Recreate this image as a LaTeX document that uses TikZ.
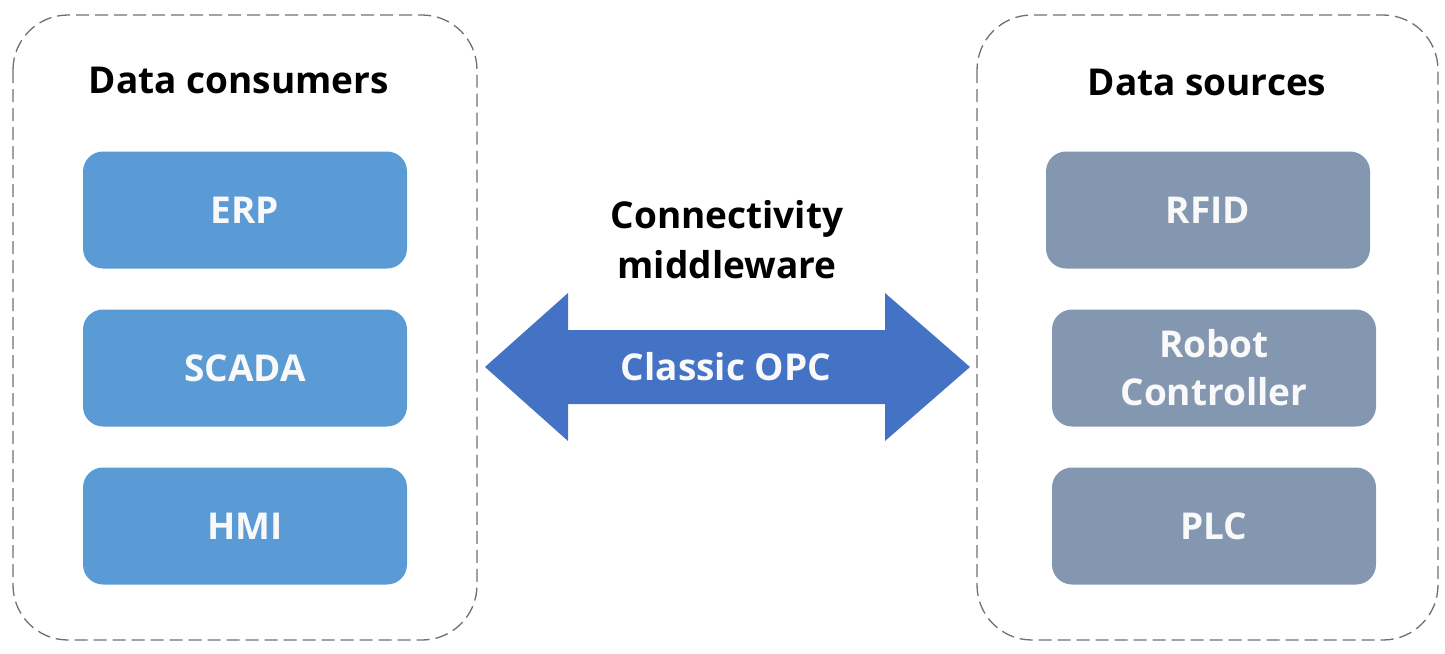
\documentclass[tikz,border=0pt]{standalone}
\usepackage{fontspec}
\setmainfont{Open Sans}
\definecolor{consumerblue}{HTML}{5B9BD5}
\definecolor{sourcegray}{HTML}{8497B0}
\definecolor{opcblue}{HTML}{4472C4}
\definecolor{framegray}{HTML}{707070}

\begin{document}
\begin{tikzpicture}[x=1pt,y=-1pt,
    group/.style={draw=framegray, line width=1.3pt, dash pattern=on 13pt off 6pt, rounded corners=55pt},
    title/.style={font=\fontsize{37}{50}\selectfont\bfseries, align=center},
    box/.style={rounded corners=20pt, minimum width=324pt, minimum height=117pt,
      text=white!95!gray, font=\fontsize{37}{48}\selectfont\bfseries, align=center},
    consumer/.style={box, fill=consumerblue},
    source/.style={box, fill=sourcegray}]
  \useasboundingbox (0,0) rectangle (1445,653);
  % dashed groups
  \draw[group] (13,15) rectangle (477,640);
  \draw[group] (977,15) rectangle (1438,640);
  \node[title] (consumers) at (239,80) {Data consumers};
  \node[title] (sources) at (1207,82) {Data sources};
  % boxes
  \foreach \y/\name/\txt in {210/erp/ERP,368/scada/SCADA,526/hmi/HMI}
    \node[consumer] (\name) at (245,\y) {\txt};
  \node[source] (rfid) at (1208,210) {RFID};
  \foreach \y/\name/\txt in {368/robot/Robot\\Controller,526/plc/PLC}
    \node[source] (\name) at (1214,\y) {\txt};
  % middleware arrow
  \node[title] (middleware) at (727,240) {Connectivity\\middleware};
  \fill[opcblue] (485,367) -- (568,293) -- (568,330) -- (885,330) -- (885,293)
    -- (970,367) -- (885,441) -- (885,404) -- (568,404) -- (568,441) -- cycle;
  \node[title, text=white!95!gray] (opc) at (726,367) {Classic OPC};
\end{tikzpicture}
\end{document}
